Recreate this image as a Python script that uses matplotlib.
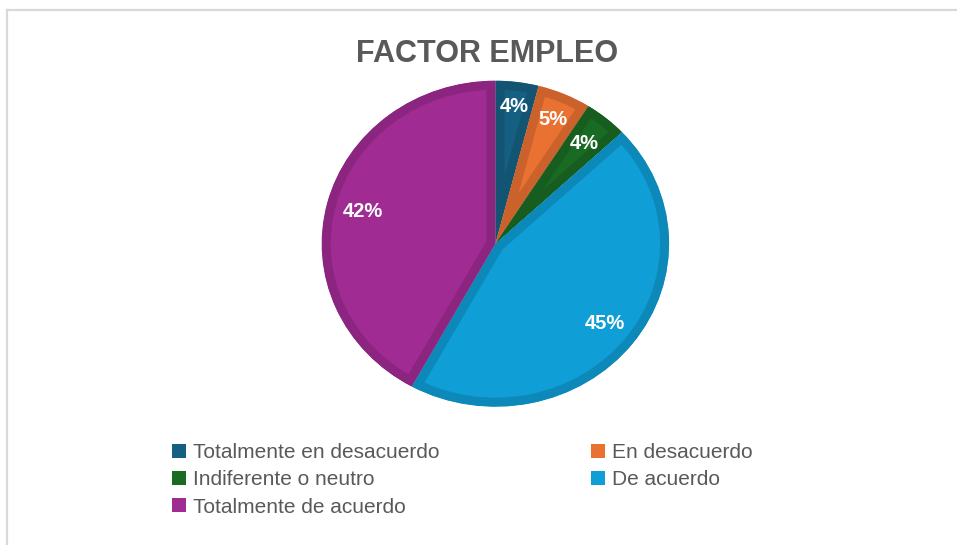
import matplotlib
matplotlib.use("agg")
import matplotlib.pyplot as plt
import numpy as np
from matplotlib.patches import Rectangle
from matplotlib.lines import Line2D
from matplotlib.colors import to_rgb

# data
categories = ["Totalmente en desacuerdo", "En desacuerdo", "Indiferente o neutro",
              "De acuerdo", "Totalmente de acuerdo"]
values = [4, 5, 4, 45, 42]
colors = ["#156082", "#E97132", "#196B24", "#0F9ED5", "#A02B93"]
title = "FACTOR EMPLEO"

# where each percentage label sits (fraction of radius)
label_r = [0.85, 0.83, 0.80, 0.80, 0.79]

W, H = 957, 545
fig = plt.figure(figsize=(W / 100, H / 100), dpi=100)

# light frame (left and top edges visible)
fig.add_artist(Line2D([7 / W, 7 / W], [0, 1 - 10 / H], color="#d9d9d9", lw=1.6,
                      transform=fig.transFigure))
fig.add_artist(Line2D([7 / W, 1], [1 - 10 / H, 1 - 10 / H], color="#d9d9d9", lw=1.6,
                      transform=fig.transFigure))

# pie axes (slightly stretched horizontally, like the source screenshot)
cx, cy, rx, ry = 495.4, 243.7, 173.7, 163.0
ax = fig.add_axes([(cx - rx) / W, 1 - (cy + ry) / H, 2 * rx / W, 2 * ry / H])


def darker(c, f=0.87):
    r, g, b = to_rgb(c)
    return (r * f, g * f, b * f)


wedges, texts, autotexts = ax.pie(
    values, colors=colors, startangle=90, counterclock=False,
    autopct="%1.0f%%", pctdistance=0.81, radius=1.0,
    textprops=dict(color="white", fontsize=14.5, fontweight="bold",
                   family="Liberation Sans"))
for w, c in zip(wedges, colors):
    w.set_edgecolor(darker(c))
    w.set_linewidth(13)
    w.set_clip_on(True)
    w.set_clip_path(w)
    w.set_clip_box(None)

for w, t, r in zip(wedges, autotexts, label_r):
    mid = np.deg2rad((w.theta1 + w.theta2) / 2)
    t.set_position((r * np.cos(mid), r * np.sin(mid)))

ax.set_aspect("auto")
ax.set_xlim(-1, 1)
ax.set_ylim(-1, 1)
ax.axis("off")

fig.text(487 / W, 1 - 61.5 / H, title, ha="center", va="baseline",
         fontsize=22, fontweight="bold", color="#595959", family="Liberation Sans")

# legend, row-major order like the reference
handles = [Rectangle((0, 0), 1, 1, facecolor=c, edgecolor="none") for c in colors]
order = [0, 2, 4, 1, 3]
leg = fig.legend([handles[i] for i in order], [categories[i] for i in order],
                 ncol=2, loc="upper left", bbox_to_anchor=(172 / W, 1 - 443 / H),
                 frameon=False, borderpad=0, borderaxespad=0,
                 handlelength=0.65, handleheight=0.65, handletextpad=0.35,
                 columnspacing=7.3, labelspacing=0.4,
                 prop=dict(family="Liberation Sans", size=15))
for t in leg.get_texts():
    t.set_color("#595959")

fig.savefig("out.png", dpi=100)
